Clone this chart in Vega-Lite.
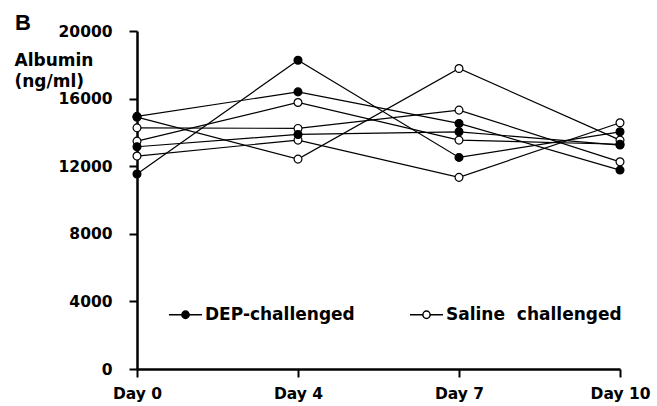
{
  "$schema": "https://vega.github.io/schema/vega-lite/v6.json",
  "autosize": "none",
  "width": 483,
  "height": 338,
  "padding": {"left": 137, "top": 31, "right": 37, "bottom": 37},
  "background": "white",
  "title": {"text": "B", "anchor": "start", "frame": "group", "dx": -122, "dy": 11, "fontSize": 22, "font": "Liberation Sans", "fontWeight": "bold", "color": "black", "offset": 0},
  "config": {"view": {"stroke": null}},
  "data": {"values": [
    {"id": "S1", "group": "Saline\u00a0\u00a0challenged", "day": "Day 0", "value": 14900},
    {"id": "S1", "group": "Saline\u00a0\u00a0challenged", "day": "Day 4", "value": 12420},
    {"id": "S1", "group": "Saline\u00a0\u00a0challenged", "day": "Day 7", "value": 17780},
    {"id": "S1", "group": "Saline\u00a0\u00a0challenged", "day": "Day 10", "value": 13545},
    {"id": "S2", "group": "Saline\u00a0\u00a0challenged", "day": "Day 0", "value": 14270},
    {"id": "S2", "group": "Saline\u00a0\u00a0challenged", "day": "Day 4", "value": 14235},
    {"id": "S2", "group": "Saline\u00a0\u00a0challenged", "day": "Day 7", "value": 15320},
    {"id": "S2", "group": "Saline\u00a0\u00a0challenged", "day": "Day 10", "value": 12260},
    {"id": "S3", "group": "Saline\u00a0\u00a0challenged", "day": "Day 0", "value": 13485},
    {"id": "S3", "group": "Saline\u00a0\u00a0challenged", "day": "Day 4", "value": 15770},
    {"id": "S3", "group": "Saline\u00a0\u00a0challenged", "day": "Day 7", "value": 13545},
    {"id": "S3", "group": "Saline\u00a0\u00a0challenged", "day": "Day 10", "value": 13300},
    {"id": "S4", "group": "Saline\u00a0\u00a0challenged", "day": "Day 0", "value": 12600},
    {"id": "S4", "group": "Saline\u00a0\u00a0challenged", "day": "Day 4", "value": 13545},
    {"id": "S4", "group": "Saline\u00a0\u00a0challenged", "day": "Day 7", "value": 11340},
    {"id": "S4", "group": "Saline\u00a0\u00a0challenged", "day": "Day 10", "value": 14570},
    {"id": "D1", "group": "DEP-challenged", "day": "Day 0", "value": 11535},
    {"id": "D1", "group": "DEP-challenged", "day": "Day 4", "value": 18270},
    {"id": "D1", "group": "DEP-challenged", "day": "Day 7", "value": 12520},
    {"id": "D1", "group": "DEP-challenged", "day": "Day 10", "value": 14035},
    {"id": "D2", "group": "DEP-challenged", "day": "Day 0", "value": 14950},
    {"id": "D2", "group": "DEP-challenged", "day": "Day 4", "value": 16400},
    {"id": "D2", "group": "DEP-challenged", "day": "Day 7", "value": 14530},
    {"id": "D2", "group": "DEP-challenged", "day": "Day 10", "value": 11770},
    {"id": "D3", "group": "DEP-challenged", "day": "Day 0", "value": 13150},
    {"id": "D3", "group": "DEP-challenged", "day": "Day 4", "value": 13880},
    {"id": "D3", "group": "DEP-challenged", "day": "Day 7", "value": 14035},
    {"id": "D3", "group": "DEP-challenged", "day": "Day 10", "value": 13250}
  ]},
  "encoding": {
    "x": {
      "field": "day", "type": "ordinal",
      "sort": ["Day 0", "Day 4", "Day 7", "Day 10"],
      "scale": {"type": "point", "padding": 0},
      "axis": {
        "title": null, "labelAngle": 0, "domainColor": "black", "domainWidth": 2.5,
        "tickColor": "black", "tickWidth": 2, "tickSize": 8, "labelPadding": 9,
        "labelFont": "DejaVu Sans", "labelFontWeight": "bold", "labelFontSize": 15.5, "labelColor": "black",
        "labelBaseline": "top"
      }
    },
    "y": {
      "field": "value", "type": "quantitative",
      "scale": {"domain": [0, 20000], "nice": false, "zero": true},
      "axis": {
        "values": [0, 4000, 8000, 12000, 16000, 20000],
        "format": "d", "grid": false,
        "domainColor": "black", "domainWidth": 2.5,
        "tickColor": "black", "tickWidth": 2, "tickSize": 8, "labelPadding": 17,
        "labelFont": "DejaVu Sans", "labelFontWeight": "bold", "labelFontSize": 15.5, "labelColor": "black",
        "labelFlush": false,
        "title": ["Albumin", "(ng/ml)"],
        "titleAngle": 0, "titleAlign": "left", "titleBaseline": "alphabetic",
        "titleX": -123, "titleY": 34, "titleFont": "DejaVu Sans", "titleFontWeight": "bold",
        "titleFontSize": 17, "titleLineHeight": 21, "titleColor": "black"
      }
    }
  },
  "layer": [
    {
      "mark": {"type": "line", "color": "black", "strokeWidth": 1.2},
      "encoding": {"detail": {"field": "id", "type": "nominal"}}
    },
    {
      "mark": {"type": "point", "filled": true, "stroke": "black", "strokeWidth": 1.2, "size": 62, "opacity": 1},
      "encoding": {
        "fill": {
          "field": "group", "type": "nominal",
          "scale": {"domain": ["DEP-challenged", "Saline\u00a0\u00a0challenged"], "range": ["black", "white"]},
          "legend": {
            "title": null, "orient": "none", "legendX": 31, "legendY": 266, "direction": "horizontal",
            "padding": 0, "columnPadding": 52,
            "symbolType": "M-1,0H-0.22M0.22,0H1M0.22,0A0.22,0.22,0,1,1,-0.22,0A0.22,0.22,0,1,1,0.22,0Z",
            "symbolSize": 1089, "symbolStrokeColor": "black", "symbolStrokeWidth": 1.5, "symbolOpacity": 1,
            "labelOffset": 2, "labelFont": "DejaVu Sans", "labelFontWeight": "bold", "labelFontSize": 17,
            "labelColor": "black", "labelLimit": 400
          }
        }
      }
    }
  ]
}
